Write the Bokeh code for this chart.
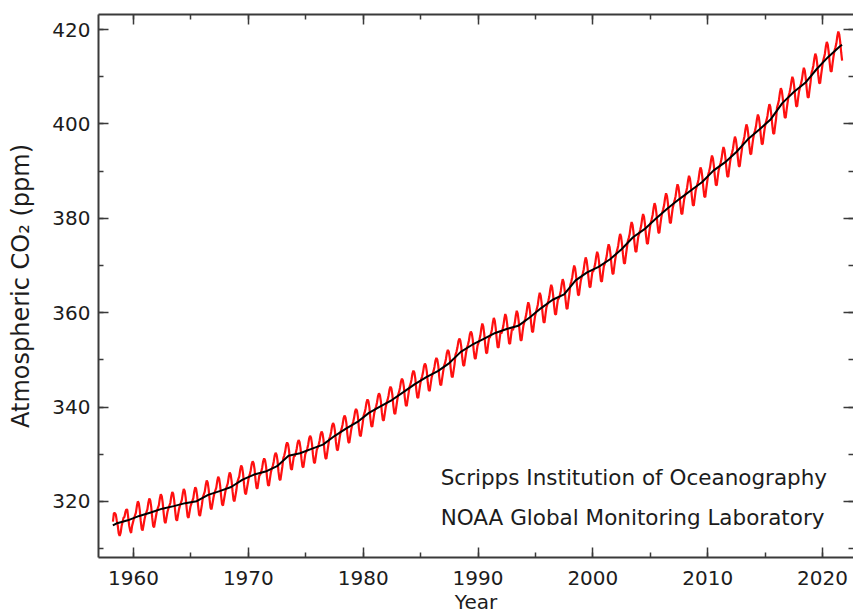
from bokeh.plotting import figure
from bokeh.models import Range1d, SingleIntervalTicker, LinearAxis, Label
from bokeh.embed import file_html
from bokeh.resources import INLINE

# Monthly CO2 (ppm), seasonal curve (red). 1958 starts in March; series ends Sep 2021.
co2_1958_1969 = [
    315.7, 317.5, 317.5, 317.2, 315.9, 314.9, 313.2, 312.7, 313.3, 314.7,
    315.6, 316.5, 316.7, 317.7, 318.3, 318.2, 316.5, 314.8, 313.8, 313.3, 314.8, 315.6,
    316.4, 317.0, 317.6, 319.0, 320.0, 319.6, 318.2, 315.9, 314.2, 313.8, 315.0, 316.2,
    317.1, 317.7, 318.3, 319.7, 320.6, 320.2, 318.8, 316.6, 314.8, 314.5, 315.7, 316.9,
    318.0, 318.6, 319.2, 320.6, 321.5, 321.1, 319.7, 317.5, 315.7, 315.4, 316.6, 317.8,
    318.5, 319.1, 319.7, 321.1, 322.0, 321.6, 320.2, 318.0, 316.2, 315.9, 317.1, 318.3,
    319.1, 319.7, 320.3, 321.7, 322.6, 322.2, 320.8, 318.6, 316.8, 316.5, 317.7, 318.9,
    319.5, 320.1, 320.7, 322.1, 323.0, 322.6, 321.2, 319.0, 317.2, 316.9, 318.1, 319.3,
    320.9, 321.5, 322.1, 323.5, 324.4, 324.0, 322.6, 320.4, 318.6, 318.3, 319.5, 320.7,
    321.7, 322.3, 322.9, 324.3, 325.2, 324.8, 323.4, 321.2, 319.4, 319.1, 320.3, 321.5,
    322.6, 323.2, 323.8, 325.2, 326.1, 325.7, 324.3, 322.1, 320.3, 320.0, 321.2, 322.4,
    324.1, 324.7, 325.3, 326.7, 327.6, 327.2, 325.8, 323.6, 321.8, 321.5, 322.7, 323.9,
]
co2_1970s = [
    325.1, 325.7, 326.6, 327.9, 328.5, 328.1, 326.8, 324.5, 322.9, 322.7, 324.1, 325.5,
    325.7, 326.3, 327.2, 328.5, 329.1, 328.7, 327.4, 325.1, 323.5, 323.3, 324.7, 326.1,
    326.9, 327.5, 328.4, 329.7, 330.3, 329.9, 328.6, 326.3, 324.7, 324.5, 325.9, 327.3,
    329.1, 329.7, 330.6, 331.9, 332.5, 332.1, 330.8, 328.5, 326.9, 326.7, 328.1, 329.5,
    329.6, 330.2, 331.1, 332.4, 333.0, 332.6, 331.3, 329.0, 327.4, 327.2, 328.6, 330.0,
    330.5, 331.1, 332.0, 333.3, 333.9, 333.5, 332.2, 329.9, 328.3, 328.1, 329.5, 330.9,
    331.4, 332.0, 332.9, 334.2, 334.8, 334.4, 333.1, 330.8, 329.2, 329.0, 330.4, 331.8,
    333.2, 333.8, 334.7, 336.0, 336.6, 336.2, 334.9, 332.6, 331.0, 330.8, 332.2, 333.6,
    334.8, 335.4, 336.3, 337.6, 338.2, 337.8, 336.5, 334.2, 332.6, 332.4, 333.8, 335.2,
    336.2, 336.8, 337.7, 339.0, 339.6, 339.2, 337.9, 335.6, 334.0, 333.8, 335.2, 336.6,
]
co2_1980s = [
    338.2, 338.8, 339.7, 341.0, 341.6, 341.2, 339.9, 337.6, 336.0, 335.8, 337.2, 338.6,
    339.5, 340.1, 341.0, 342.3, 342.9, 342.5, 341.2, 338.9, 337.3, 337.1, 338.5, 339.9,
    340.9, 341.5, 342.4, 343.7, 344.3, 343.9, 342.6, 340.3, 338.7, 338.5, 339.9, 341.3,
    342.6, 343.2, 344.1, 345.4, 346.0, 345.6, 344.3, 342.0, 340.4, 340.2, 341.6, 343.0,
    344.3, 344.9, 345.8, 347.1, 347.7, 347.3, 346.0, 343.7, 342.1, 341.9, 343.3, 344.7,
    345.8, 346.4, 347.3, 348.6, 349.2, 348.8, 347.5, 345.2, 343.6, 343.4, 344.8, 346.2,
    347.0, 347.6, 348.5, 349.8, 350.4, 350.0, 348.7, 346.4, 344.8, 344.6, 346.0, 347.4,
    348.7, 349.3, 350.2, 351.5, 352.1, 351.7, 350.4, 348.1, 346.5, 346.3, 347.7, 349.1,
    351.1, 351.7, 352.6, 353.9, 354.5, 354.1, 352.8, 350.5, 348.9, 348.7, 350.1, 351.5,
    352.6, 353.2, 354.1, 355.4, 356.0, 355.6, 354.3, 352.0, 350.4, 350.2, 351.6, 353.0,
]
co2_1990s = [
    353.6, 354.3, 355.2, 356.7, 357.7, 357.1, 355.5, 353.3, 351.5, 351.4, 353.1, 354.6,
    354.8, 355.5, 356.4, 357.9, 358.9, 358.3, 356.7, 354.5, 352.7, 352.6, 354.3, 355.8,
    355.6, 356.3, 357.2, 358.7, 359.7, 359.1, 357.5, 355.3, 353.5, 353.4, 355.1, 356.6,
    356.3, 357.0, 357.9, 359.4, 360.4, 359.8, 358.2, 356.0, 354.2, 354.1, 355.8, 357.3,
    358.1, 358.8, 359.7, 361.2, 362.2, 361.6, 360.0, 357.8, 356.0, 355.9, 357.6, 359.1,
    360.1, 360.8, 361.7, 363.2, 364.2, 363.6, 362.0, 359.8, 358.0, 357.9, 359.6, 361.1,
    361.8, 362.5, 363.4, 364.9, 365.9, 365.3, 363.7, 361.5, 359.7, 359.6, 361.3, 362.8,
    363.0, 363.7, 364.6, 366.1, 367.1, 366.5, 364.9, 362.7, 360.9, 360.8, 362.5, 364.0,
    365.9, 366.6, 367.5, 369.0, 370.0, 369.4, 367.8, 365.6, 363.8, 363.7, 365.4, 366.9,
    367.6, 368.3, 369.2, 370.7, 371.7, 371.1, 369.5, 367.3, 365.5, 365.4, 367.1, 368.6,
]
co2_2000s = [
    368.8, 369.5, 370.4, 371.9, 372.9, 372.3, 370.7, 368.5, 366.7, 366.6, 368.3, 369.8,
    370.4, 371.1, 372.0, 373.5, 374.5, 373.9, 372.3, 370.1, 368.3, 368.2, 369.9, 371.4,
    372.6, 373.3, 374.2, 375.7, 376.7, 376.1, 374.5, 372.3, 370.5, 370.4, 372.1, 373.6,
    375.1, 375.8, 376.7, 378.2, 379.2, 378.6, 377.0, 374.8, 373.0, 372.9, 374.6, 376.1,
    376.8, 377.5, 378.4, 379.9, 380.9, 380.3, 378.7, 376.5, 374.7, 374.6, 376.3, 377.8,
    379.1, 379.8, 380.7, 382.2, 383.2, 382.6, 381.0, 378.8, 377.0, 376.9, 378.6, 380.1,
    381.2, 381.9, 382.8, 384.3, 385.3, 384.7, 383.1, 380.9, 379.1, 379.0, 380.7, 382.2,
    383.1, 383.8, 384.7, 386.2, 387.2, 386.6, 385.0, 382.8, 381.0, 380.9, 382.6, 384.1,
    384.9, 385.6, 386.5, 388.0, 389.0, 388.4, 386.8, 384.6, 382.8, 382.7, 384.4, 385.9,
    386.7, 387.4, 388.3, 389.8, 390.8, 390.2, 388.6, 386.4, 384.6, 384.5, 386.2, 387.7,
]
co2_2010s = [
    389.2, 389.9, 390.8, 392.3, 393.3, 392.7, 391.1, 388.9, 387.1, 387.0, 388.7, 390.2,
    391.0, 391.7, 392.6, 394.1, 395.1, 394.5, 392.9, 390.7, 388.9, 388.8, 390.5, 392.0,
    393.2, 393.9, 394.8, 396.3, 397.3, 396.7, 395.1, 392.9, 391.1, 391.0, 392.7, 394.2,
    395.8, 396.5, 397.4, 398.9, 399.9, 399.3, 397.7, 395.5, 393.7, 393.6, 395.3, 396.8,
    397.9, 398.6, 399.5, 401.0, 402.0, 401.4, 399.8, 397.6, 395.8, 395.7, 397.4, 398.9,
    400.1, 400.8, 401.7, 403.2, 404.2, 403.6, 402.0, 399.8, 398.0, 397.9, 399.6, 401.1,
    403.5, 404.2, 405.1, 406.6, 407.6, 407.0, 405.4, 403.2, 401.4, 401.3, 403.0, 404.5,
    405.9, 406.6, 407.5, 409.0, 410.0, 409.4, 407.8, 405.6, 403.8, 403.7, 405.4, 406.9,
    407.8, 408.5, 409.4, 410.9, 411.9, 411.3, 409.7, 407.5, 405.7, 405.6, 407.3, 408.8,
    410.8, 411.5, 412.4, 413.9, 414.9, 414.3, 412.7, 410.5, 408.7, 408.6, 410.3, 411.8,
]
co2_2020s = [
    413.3, 414.0, 414.9, 416.4, 417.4, 416.8, 415.2, 413.0, 411.2, 411.1, 412.8, 414.3,
    415.5, 416.2, 417.1, 418.6, 419.6, 419.0, 417.4, 415.2, 413.4,
]

# Seasonally adjusted trend (black): decimal year and ppm
trend_time = [1958.2] + [y + 0.5 for y in range(1958, 2022)] + [2021.7]
trend_co2 = [
    314.9,
    315.3, 315.98, 316.91, 317.64, 318.45, 318.99, 319.62, 320.04, 321.37, 322.18,
    323.05, 324.62, 325.68, 326.32, 327.46, 329.68, 330.19, 331.12, 332.03, 333.84,
    335.41, 336.84, 338.76, 340.12, 341.48, 343.15, 344.85, 346.35, 347.61, 349.31,
    351.69, 353.20, 354.45, 355.70, 356.54, 357.21, 358.96, 360.97, 362.74, 363.88,
    366.84, 368.54, 369.71, 371.32, 373.45, 375.98, 377.70, 379.98, 382.09, 384.02,
    385.83, 387.64, 390.10, 391.85, 394.06, 396.74, 398.81, 401.01, 404.41, 406.76,
    408.72, 411.65, 414.21, 416.41,
    416.8,
]

x_ticks_interval = 10
y_ticks_interval = 20
notes = ["Scripps Institution of Oceanography", "NOAA Global Monitoring Laboratory"]
notes_y = [325.0, 316.6]

red_co2 = co2_1958_1969 + co2_1970s + co2_1980s + co2_1990s + co2_2000s + co2_2010s + co2_2020s
red_time = [1958 + (2 + i + 0.5) / 12.0 for i in range(len(red_co2))]

FONT = "DejaVu Sans"
TXT = "#1c1c1c"
AX = "#3a3a3a"

p = figure(width=853, height=616, output_backend="svg", toolbar_location=None,
           x_range=Range1d(1956.95, 2022.7), y_range=Range1d(308.1, 423.2),
           min_border_left=98, min_border_right=0, min_border_top=14, min_border_bottom=10,
           background_fill_color="white", border_fill_color="white")
p.outline_line_color = None
p.xgrid.visible = False
p.ygrid.visible = False

p.line(red_time, red_co2, line_color="#ff1010", line_width=2.2)
p.line(trend_time, trend_co2, line_color="black", line_width=2)

def style_axis(ax, show_labels):
    ax.axis_line_color = AX
    ax.axis_line_width = 2
    ax.major_tick_line_color = AX
    ax.minor_tick_line_color = AX
    ax.major_tick_line_width = 1.5
    ax.minor_tick_line_width = 1.5
    ax.major_tick_in = 10
    ax.major_tick_out = 0
    ax.minor_tick_in = 5
    ax.minor_tick_out = 0
    if show_labels:
        ax.major_label_text_font = FONT
        ax.major_label_text_font_size = "20px"
        ax.major_label_text_color = TXT
        ax.axis_label_text_font = FONT
        ax.axis_label_text_font_style = "normal"
        ax.axis_label_text_color = TXT
    else:
        ax.major_label_text_font_size = "1px"
        ax.major_label_text_color = None
        ax.major_label_standoff = 0

xa = p.xaxis[0]
xa.ticker = SingleIntervalTicker(interval=x_ticks_interval, num_minor_ticks=2)
xa.axis_label = "Year"
style_axis(xa, True)
xa.axis_label_text_font_size = "20px"
xa.major_label_standoff = 13
xa.axis_label_standoff = 2

ya = p.yaxis[0]
ya.ticker = SingleIntervalTicker(interval=y_ticks_interval, num_minor_ticks=2)
ya.axis_label = "Atmospheric CO\u2082 (ppm)"
style_axis(ya, True)
ya.axis_label_text_font_size = "24px"
ya.major_label_standoff = 8
ya.axis_label_standoff = 14

top = LinearAxis(ticker=SingleIntervalTicker(interval=x_ticks_interval, num_minor_ticks=2))
style_axis(top, False)
p.add_layout(top, "above")

right = LinearAxis(ticker=SingleIntervalTicker(interval=y_ticks_interval, num_minor_ticks=2))
style_axis(right, False)
right.axis_line_color = None
p.add_layout(right, "right")

for t, ty in zip(notes, notes_y):
    p.add_layout(Label(x=1986.75, y=ty, text=t, text_font=FONT,
                       text_font_size="21.5px", text_color=TXT, text_baseline="alphabetic"))

open("out.html", "w").write(file_html(p, INLINE))
